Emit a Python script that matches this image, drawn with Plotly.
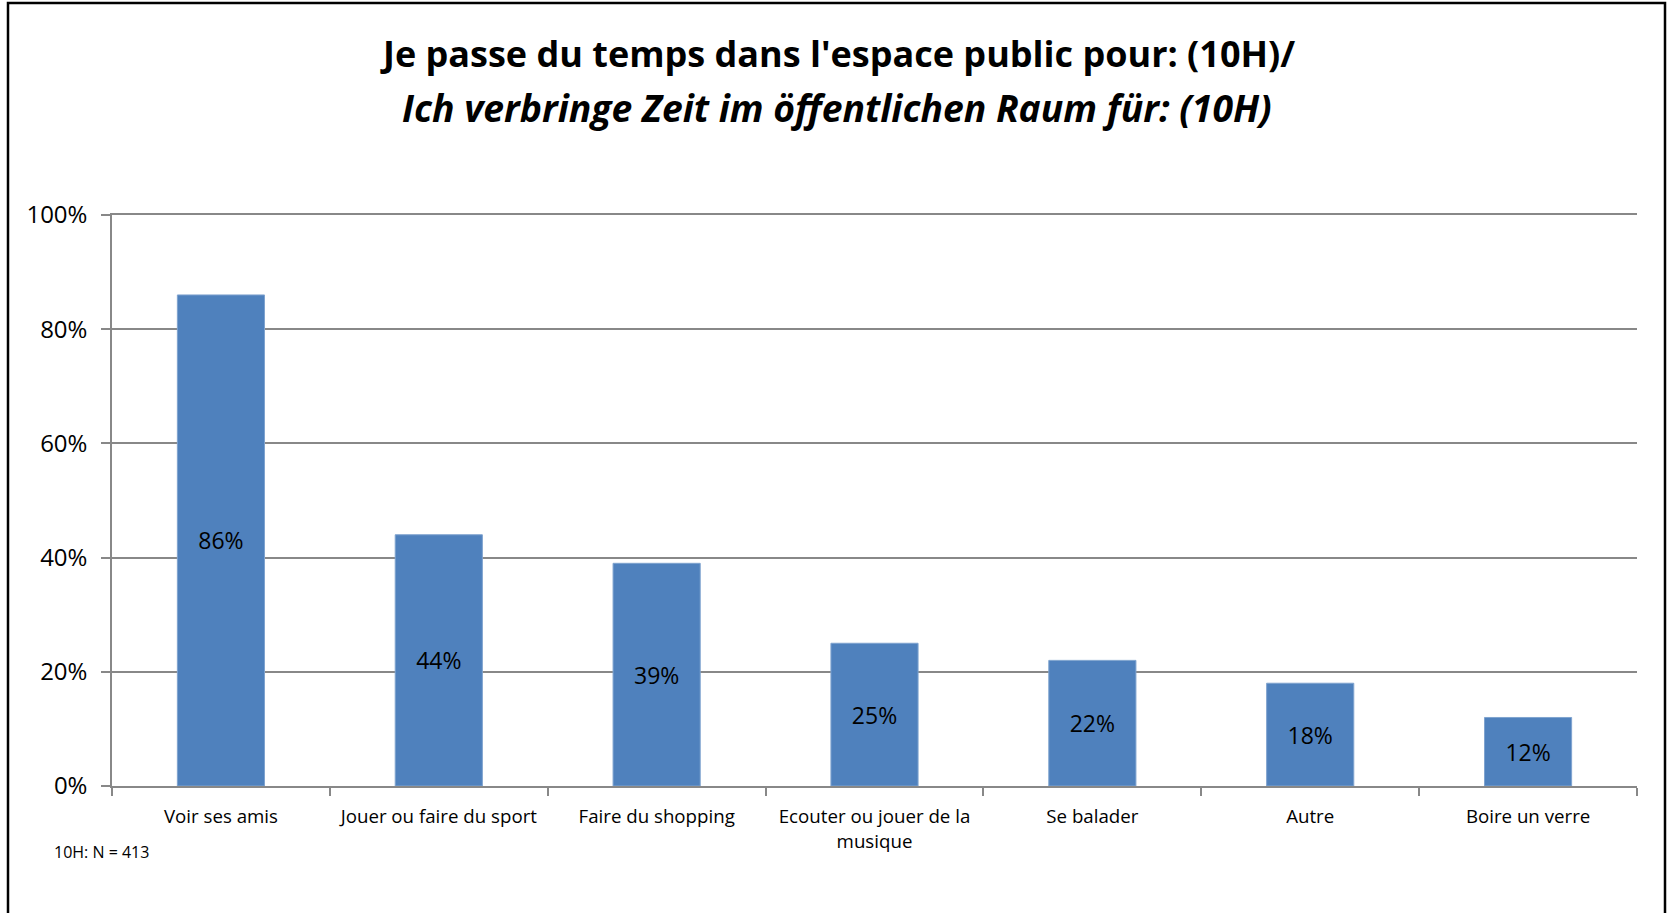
import plotly.graph_objects as go

categories = ["Voir ses amis", "Jouer ou faire du sport", "Faire du shopping",
              "Ecouter ou jouer de la<br>musique", "Se balader", "Autre", "Boire un verre"]
values = [0.86, 0.44, 0.39, 0.25, 0.22, 0.18, 0.12]
y_ticks = [0, 0.2, 0.4, 0.6, 0.8, 1.0]
y_labels = ["0%", "20%", "40%", "60%", "80%", "100%"]

W, H = 1667, 913
L, R, T, B = 112, 30, 215, 127
pw, ph = W - L - R, H - T - B


def px_x(x):
    return (x - L) / pw


def px_y(y):
    return (H - B - y) / ph


font = "Open Sans"
grid = "#888888"

fig = go.Figure(go.Bar(
    x=categories, y=values,
    marker=dict(color="#4F81BD", line=dict(color="#7FA3CF", width=1)),
    texttemplate="%{y:.0%}", textposition="inside", insidetextanchor="middle",
    textfont=dict(family=font, size=23, color="black"),
    hoverinfo="skip",
))

fig.update_layout(
    width=W, height=H,
    margin=dict(l=L, r=R, t=T, b=B),
    paper_bgcolor="white", plot_bgcolor="white",
    bargap=0.6, showlegend=False,
    font=dict(family=font, color="black"),
)
fig.update_xaxes(
    tickson="boundaries", ticks="outside", ticklen=8, tickcolor=grid, tickwidth=1.5,
    showline=True, mirror=True, linecolor=grid, linewidth=1.5, showgrid=False,
    tickfont=dict(size=18.7, color="black"), ticklabelstandoff=13,
)
fig.update_yaxes(
    range=[0, 1], tickvals=y_ticks, ticktext=y_labels,
    ticks="outside", ticklen=9, tickcolor=grid, tickwidth=1.5,
    showline=True, linecolor=grid, linewidth=1.5,
    showgrid=True, gridcolor=grid, gridwidth=1.5, zeroline=False,
    tickfont=dict(size=24, color="black"), ticklabelstandoff=9,
)

# titles
fig.add_annotation(text="<b>Je passe du temps dans l'espace public pour: (10H)/</b>",
                   xref="paper", yref="paper", x=px_x(837), y=px_y(53), yanchor="middle",
                   showarrow=False, font=dict(size=36, color="black"))
fig.add_annotation(text="<b><i>Ich verbringe Zeit im öffentlichen Raum für: (10H)</i></b>",
                   xref="paper", yref="paper", x=px_x(837), y=px_y(108), yanchor="middle",
                   showarrow=False, font=dict(size=37.3, color="black"))
# footnote
fig.add_annotation(text="10H: N = 413", xref="paper", yref="paper",
                   x=px_x(52), y=px_y(852), xanchor="left", yanchor="middle",
                   showarrow=False, font=dict(size=16, color="black"))

# chart border
fig.add_shape(type="rect", xref="paper", yref="paper",
              x0=px_x(8), x1=px_x(1665), y0=px_y(930), y1=px_y(3),
              line=dict(color="black", width=2.5))

fig.write_html("out.html", config={"displayModeBar": False},
               post_script="document.body.style.margin='0';")
